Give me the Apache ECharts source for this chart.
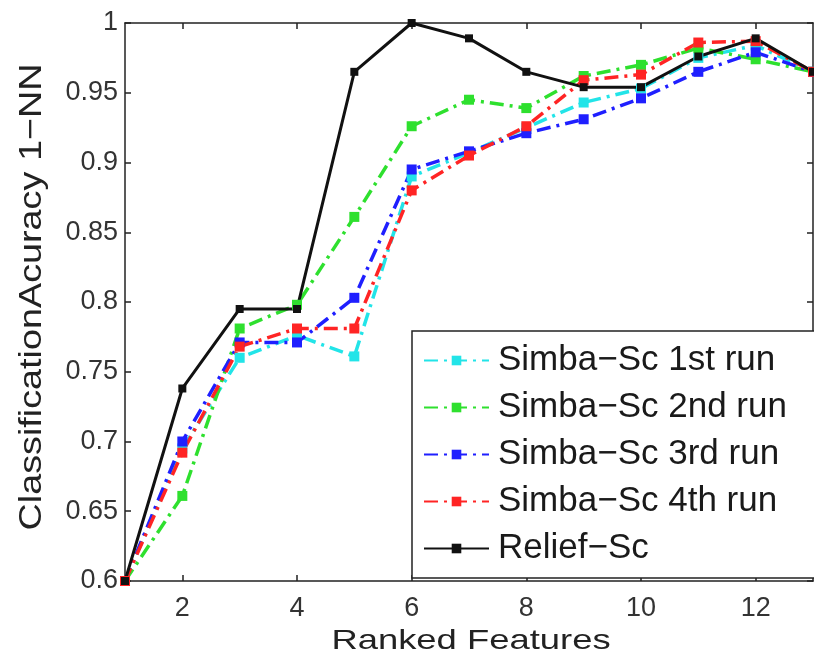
<!DOCTYPE html>
<html>
<head>
<meta charset="utf-8">
<title>Classification accuracy vs ranked features</title>
<script src="https://cdn.jsdelivr.net/npm/echarts@6/dist/echarts.min.js"></script>
<style>
  html, body { margin: 0; padding: 0; background: #fff; }
  #chart { width: 814px; height: 657px; }
</style>
</head>
<body>
<div id="chart"></div>
<script>
// x positions (number of ranked features)
const rankedFeatures = [1, 2, 3, 4, 5, 6, 7, 8, 9, 10, 11, 12, 13];
const xTickValues = [2, 4, 6, 8, 10, 12];

// accuracy values
const simba1st = [0.600, 0.695, 0.760, 0.776, 0.761, 0.890, 0.907, 0.925, 0.943, 0.953, 0.975, 0.984, 0.965];
const simba2nd = [0.600, 0.661, 0.781, 0.798, 0.861, 0.926, 0.945, 0.939, 0.962, 0.970, 0.982, 0.974, 0.965];
const simba3rd = [0.600, 0.700, 0.771, 0.771, 0.803, 0.895, 0.908, 0.921, 0.931, 0.946, 0.965, 0.979, 0.965];
const simba4th = [0.600, 0.692, 0.768, 0.781, 0.781, 0.880, 0.905, 0.926, 0.959, 0.963, 0.986, 0.987, 0.965];
const reliefSc = [0.600, 0.738, 0.795, 0.795, 0.965, 1.000, 0.989, 0.965, 0.954, 0.954, 0.976, 0.989, 0.965];

const seriesNames = ['Simba−Sc 1st run', 'Simba−Sc 2nd run', 'Simba−Sc 3rd run', 'Simba−Sc 4th run', 'Relief−Sc'];

const FONT = 'Arial, "Liberation Sans", sans-serif';
const chart = echarts.init(document.getElementById('chart'));

// pairs x with y for a value x axis
function toPoints(values) {
  return values.map((v, i) => [rankedFeatures[i], v]);
}

// dash-dot simba runs
function simbaSeries(name, values, color) {
  return {
    name: name,
    type: 'line',
    data: toPoints(values),
    symbol: 'rect',
    symbolSize: 10,
    clip: false,
    itemStyle: { color: color },
    lineStyle: { color: color, width: 3.5, type: [14, 6, 3, 6] }
  };
}

const axisLineStyle = { color: '#222', width: 1.5 };

const option = {
  animation: false,
  backgroundColor: '#fff',
  grid: { left: 125, right: 1, top: 23, bottom: 76 },
  xAxis: [
    {
      type: 'value',
      min: 1,
      max: 13,
      axisLine: { onZero: false, lineStyle: axisLineStyle },
      axisTick: { inside: true, length: 6, customValues: xTickValues, lineStyle: axisLineStyle },
      axisLabel: { customValues: xTickValues, margin: 14, color: '#333', fontSize: 27, fontFamily: FONT },
      splitLine: { show: false }
    },
    {
      // top edge of the box
      type: 'value',
      position: 'top',
      min: 1,
      max: 13,
      axisLine: { onZero: false, lineStyle: axisLineStyle },
      axisTick: { inside: true, length: 6, customValues: xTickValues, lineStyle: axisLineStyle },
      axisLabel: { show: false },
      splitLine: { show: false }
    }
  ],
  yAxis: [
    {
      type: 'value',
      min: 0.6,
      max: 1,
      interval: 0.05,
      axisLine: { show: true, onZero: false, lineStyle: axisLineStyle },
      axisTick: { show: true, inside: true, length: 6, lineStyle: axisLineStyle },
      axisLabel: {
        margin: 7, color: '#333', fontSize: 27, fontFamily: FONT,
        formatter: v => String(Math.round(v * 100) / 100)
      },
      splitLine: { show: false }
    },
    {
      // right edge of the box
      type: 'value',
      position: 'right',
      min: 0.6,
      max: 1,
      interval: 0.05,
      axisLine: { show: true, onZero: false, lineStyle: axisLineStyle },
      axisTick: { show: true, inside: true, length: 6, lineStyle: axisLineStyle },
      axisLabel: { show: false },
      splitLine: { show: false }
    }
  ],
  legend: {
    orient: 'vertical',
    left: 412,
    top: 331,
    data: seriesNames,
    itemWidth: 65,
    itemHeight: 12,
    itemGap: 12,
    padding: [12, 40, 12, 11],
    backgroundColor: '#fff',
    borderColor: '#222',
    borderWidth: 1.5,
    borderRadius: 0,
    textStyle: { color: '#1a1a1a', fontSize: 35, lineHeight: 35, fontFamily: FONT, padding: [0, 0, 0, 4] }
  },
  graphic: [
    {
      type: 'text',
      x: 32,
      y: 297,
      rotation: Math.PI / 2,
      scaleX: 1.18,
      style: {
        text: 'ClassificationAcuracy 1−NN',
        font: '32px ' + FONT,
        fill: '#222',
        align: 'center',
        verticalAlign: 'middle'
      }
    },
    {
      type: 'text',
      x: 471,
      y: 641,
      scaleX: 1.3,
      style: {
        text: 'Ranked Features',
        font: '28px ' + FONT,
        fill: '#222',
        align: 'center',
        verticalAlign: 'middle'
      }
    }
  ],
  series: [
    simbaSeries(seriesNames[0], simba1st, '#22e4e8'),
    simbaSeries(seriesNames[1], simba2nd, '#2ee02e'),
    simbaSeries(seriesNames[2], simba3rd, '#1f1fff'),
    simbaSeries(seriesNames[3], simba4th, '#ff2424'),
    {
      name: seriesNames[4],
      type: 'line',
      data: toPoints(reliefSc),
      symbol: 'rect',
      symbolSize: 8,
      clip: false,
      itemStyle: { color: '#111' },
      lineStyle: { color: '#111', width: 3, type: 'solid' }
    }
  ]
};

chart.setOption(option);
</script>
</body>
</html>
